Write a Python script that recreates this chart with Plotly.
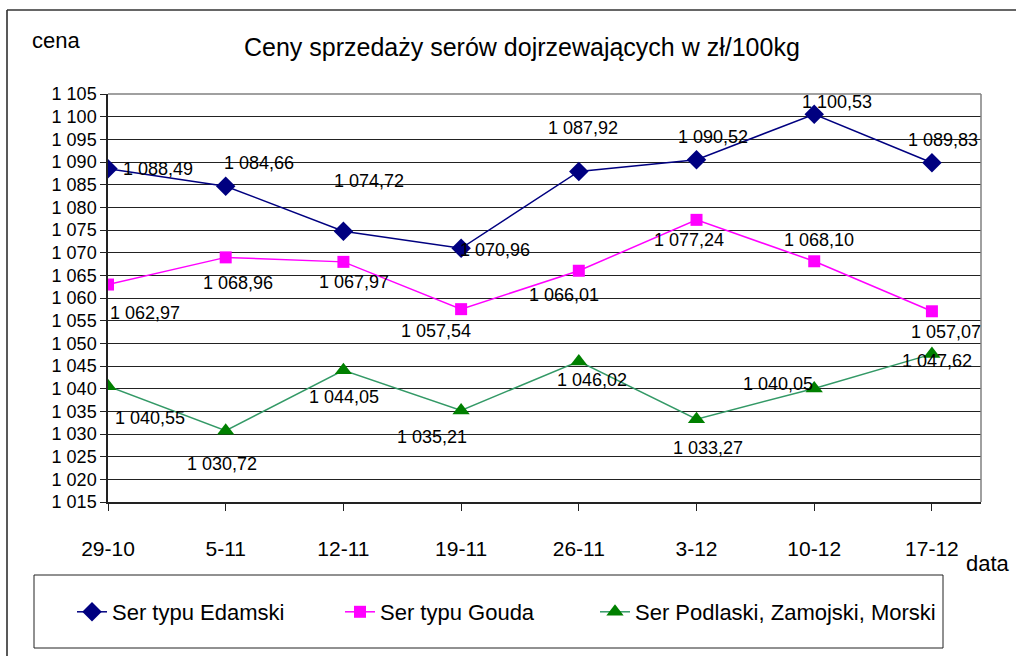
import plotly.graph_objects as go

# ---- data ----
dates = ["29-10", "5-11", "12-11", "19-11", "26-11", "3-12", "10-12", "17-12"]
edamski = [1088.49, 1084.66, 1074.72, 1070.96, 1087.92, 1090.52, 1100.53, 1089.83]
gouda = [1062.97, 1068.96, 1067.97, 1057.54, 1066.01, 1077.24, 1068.10, 1057.07]
podlaski = [1040.55, 1030.72, 1044.05, 1035.21, 1046.02, 1033.27, 1040.05, 1047.62]
series_names = ["Ser typu Edamski", "Ser typu Gouda", "Ser Podlaski, Zamojski, Morski"]

# ---- label offsets (pixels) ----
off_ed = [(50, 0), (33, 23), (26, 50), (34, -2), (4, 43), (16, 23), (23, 12), (11, 23)]
off_go = [(37, -28), (12, -26), (11, -20), (-25, -22), (-15, -24), (-8, -20), (5, 21), (14, -21)]
off_po = [(42, -32), (-4, -33), (1, -27), (-29, -27), (13, -19), (11, -29), (-36, 4), (5, -7)]

FONT = "Liberation Sans, Arial, sans-serif"
W, H = 1016, 656
ML, MR, MT, MB = 108, 35, 94, 154
PW, PH = W - ML - MR, H - MT - MB


def px_x(p):
    return (p - ML) / PW


def px_y(p):
    return (H - MB - p) / PH


def fmt(v):
    return f"{v:,.2f}".replace(",", " ").replace(".", ",")


fig = go.Figure()
styles = [
    dict(line=dict(color="#000080", width=1.5), marker=dict(symbol="diamond", size=15, color="#000080")),
    dict(line=dict(color="#FF00FF", width=1.5), marker=dict(symbol="square", size=12, color="#FF00FF")),
    dict(line=dict(color="#339966", width=1.5), marker=dict(symbol="triangle-up", size=15, color="#008000")),
]
legends = ["legend", "legend2", "legend3"]
for name, vals, st, lg in zip(series_names, [edamski, gouda, podlaski], styles, legends):
    fig.add_trace(go.Scatter(x=list(range(len(dates))), y=vals, name=name, mode="lines+markers",
                             legend=lg, **st))

for vals, offs in [(edamski, off_ed), (gouda, off_go), (podlaski, off_po)]:
    for i, (v, (dx, dy)) in enumerate(zip(vals, offs)):
        fig.add_annotation(x=i, y=v, text=fmt(v), showarrow=False, xshift=dx, yshift=dy,
                           xanchor="center", yanchor="middle",
                           font=dict(family=FONT, size=18, color="black"))

# title & axis titles
fig.add_annotation(x=px_x(522), y=px_y(47), xref="paper", yref="paper", showarrow=False,
                   xanchor="center", yanchor="middle",
                   text="Ceny sprzedaży serów dojrzewających w zł/100kg",
                   font=dict(family=FONT, size=25, color="black"))
fig.add_annotation(x=px_x(56), y=px_y(40), xref="paper", yref="paper", showarrow=False,
                   xanchor="center", yanchor="middle",
                   text="cena", font=dict(family=FONT, size=22, color="black"))
fig.add_annotation(x=px_x(988), y=px_y(563), xref="paper", yref="paper", showarrow=False,
                   xanchor="center", yanchor="middle",
                   text="data", font=dict(family=FONT, size=22, color="black"))

# outer frame and legend box
fig.add_shape(type="line", xref="paper", yref="paper", x0=px_x(7), x1=px_x(7), y0=px_y(10), y1=px_y(660),
              line=dict(color="#222222", width=1.5))
fig.add_shape(type="line", xref="paper", yref="paper", x0=px_x(7), x1=px_x(1020), y0=px_y(10), y1=px_y(10),
              line=dict(color="#333333", width=1.5))
fig.add_shape(type="rect", xref="paper", yref="paper", x0=px_x(34), x1=px_x(943), y0=px_y(575), y1=px_y(648),
              line=dict(color="#222222", width=1))
# plot area top/right border
fig.add_shape(type="line", xref="paper", yref="paper", x0=0, x1=1, y0=1, y1=1,
              line=dict(color="#808080", width=1.5))
fig.add_shape(type="line", xref="paper", yref="paper", x0=1, x1=1, y0=0, y1=1,
              line=dict(color="#808080", width=1.5))

leg_common = dict(orientation="h", yanchor="middle", xanchor="left", bgcolor="rgba(0,0,0,0)",
                  font=dict(family=FONT, size=22, color="black"))
fig.update_layout(
    width=W, height=H,
    margin=dict(l=ML, r=MR, t=MT, b=MB, autoexpand=False),
    paper_bgcolor="white", plot_bgcolor="white",
    separators=", ",
    showlegend=True,
    legend=dict(x=px_x(72), y=px_y(612), **leg_common),
    legend2=dict(x=px_x(340), y=px_y(612), **leg_common),
    legend3=dict(x=px_x(595), y=px_y(612), **leg_common),
    xaxis=dict(range=[0, 7.417], tickvals=list(range(len(dates))), ticktext=dates,
               showgrid=False, zeroline=False, showline=True, linecolor="#222222", linewidth=1.5,
               ticks="outside", ticklen=7, tickcolor="#222222", ticklabelstandoff=20,
               tickfont=dict(family=FONT, size=21, color="black")),
    yaxis=dict(range=[1015, 1105], dtick=5, tick0=1015, tickformat=",d",
               showgrid=True, gridcolor="#222222", gridwidth=1, zeroline=False,
               showline=True, linecolor="#222222", linewidth=1.5,
               ticks="outside", ticklen=6, tickcolor="#222222", ticklabelstandoff=0,
               tickfont=dict(family=FONT, size=18, color="black")),
)

fig.write_html("out.html", config={"displayModeBar": False},
               post_script="document.body.style.margin='0';")
